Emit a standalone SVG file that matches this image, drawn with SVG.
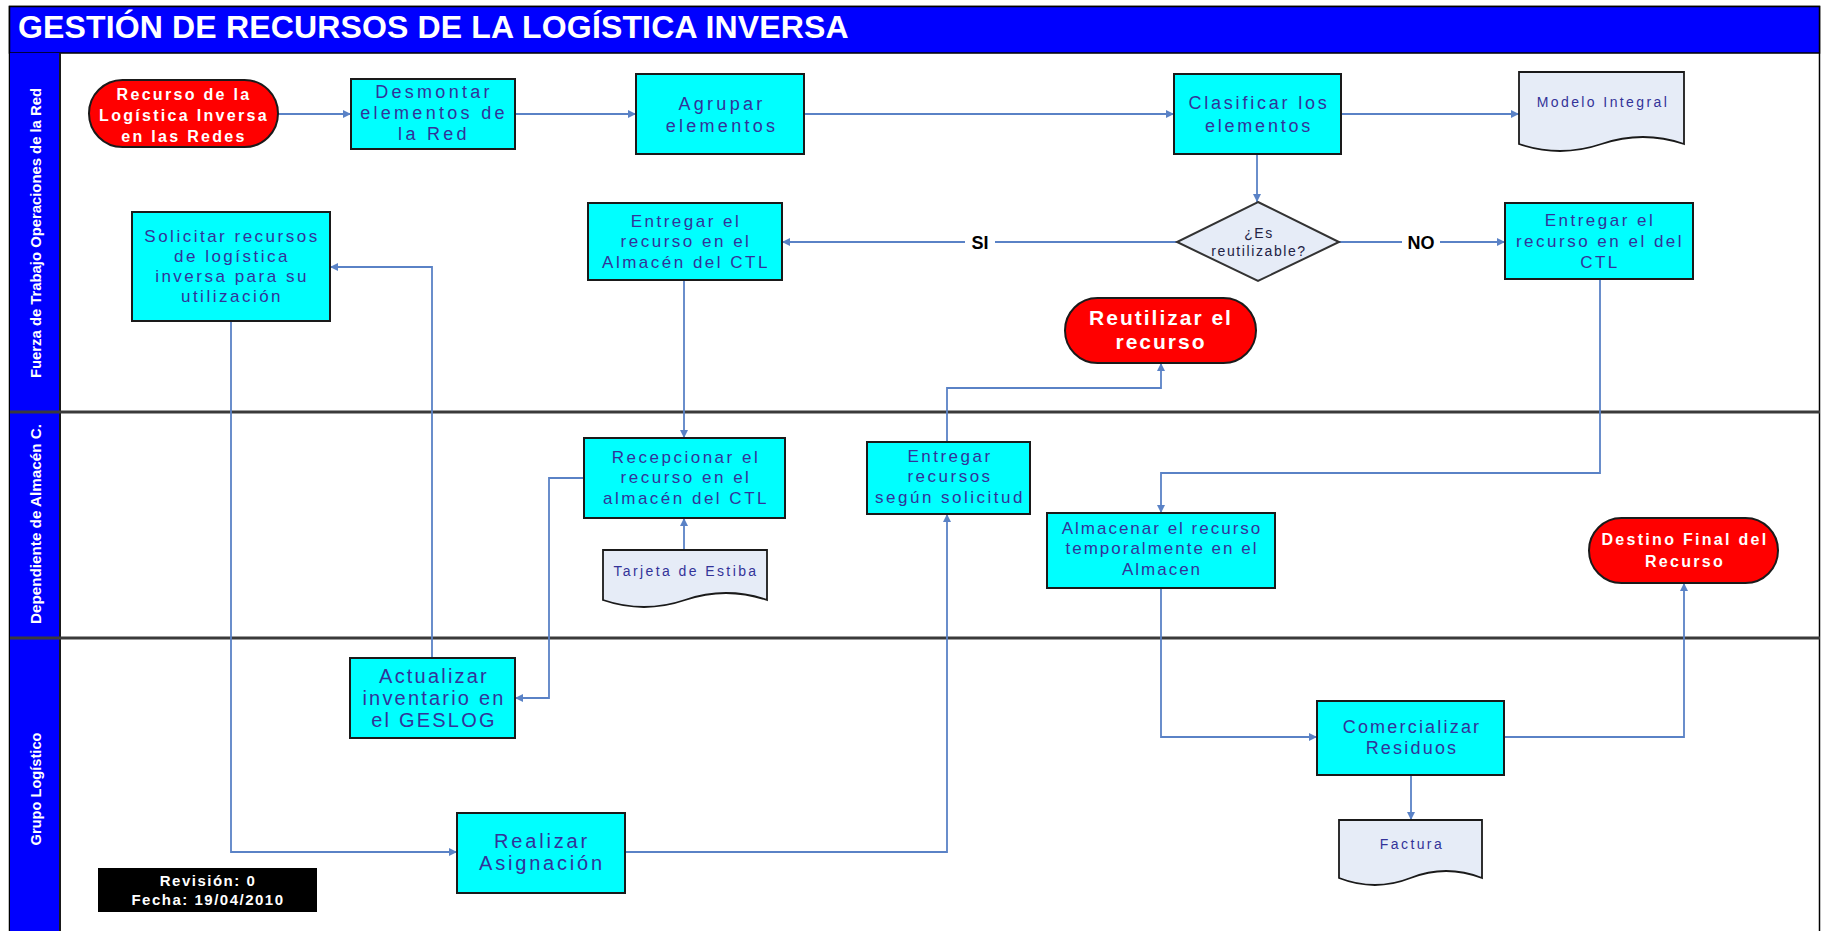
<svg xmlns="http://www.w3.org/2000/svg" width="1824" height="931" viewBox="0 0 1824 931">
<defs>
<marker id="ah" viewBox="0 0 10 10" refX="10" refY="5" markerWidth="9" markerHeight="8" markerUnits="userSpaceOnUse" orient="auto">
<path d="M0,0 L10,5 L0,10 z" fill="#5A82C6"/>
</marker>
<style>
text{font-family:"Liberation Sans",Arial,sans-serif}
.proc{fill:#00FFFF;stroke:#1a1a1a;stroke-width:2}
.term{fill:#FF0000;stroke:#1a1a1a;stroke-width:2}
.doc{fill:#E6ECF7;stroke:#1a1a1a;stroke-width:1.8}
.dia{fill:#E6ECF7;stroke:#333333;stroke-width:2}
.t{fill:#333399;font-size:17px;letter-spacing:2.5px;text-anchor:middle}
.tb{fill:#333399;font-size:20px;letter-spacing:2.2px;text-anchor:middle}
.td{fill:#333399;font-size:14px;letter-spacing:2.4px;text-anchor:middle}
.tw{fill:#FFFFFF;font-size:16px;font-weight:bold;letter-spacing:2.3px;text-anchor:middle}
.lane{fill:#FFFFFF;font-size:14px;font-weight:bold;text-anchor:middle}
.c{fill:none;stroke:#5A82C6;stroke-width:1.8}
.ca{fill:none;stroke:#5A82C6;stroke-width:1.8;marker-end:url(#ah)}
.lbl{fill:#000000;font-size:18px;font-weight:bold;text-anchor:middle}
</style>
</defs>

<g id="frame">
<rect x="9.5" y="6.5" width="1810" height="930" fill="#FFFFFF" stroke="#000000" stroke-width="1.5"/>
<rect x="9.5" y="6.5" width="1810" height="46.5" fill="#0000FF" stroke="#000000" stroke-width="1.5"/>
<text x="18" y="38" fill="#FFFFFF" font-size="32" font-weight="bold" letter-spacing="0.15">GESTIÓN DE RECURSOS DE LA LOGÍSTICA INVERSA</text>
<rect x="10" y="53" width="50" height="878" fill="#0000FF"/>
<line x1="60" y1="53" x2="60" y2="931" stroke="#1a1a1a" stroke-width="2"/>
<line x1="10" y1="412" x2="1820" y2="412" stroke="#3a3a3a" stroke-width="3"/>
<line x1="10" y1="638" x2="1820" y2="638" stroke="#3a3a3a" stroke-width="3"/>
</g>

<g id="lane-labels">
<text class="lane" transform="translate(41,233) rotate(-90)" textLength="290" lengthAdjust="spacingAndGlyphs">Fuerza de Trabajo Operaciones de la Red</text>
<text class="lane" transform="translate(41,524) rotate(-90)" textLength="200" lengthAdjust="spacingAndGlyphs">Dependiente de Almacén C.</text>
<text class="lane" transform="translate(41,789) rotate(-90)" textLength="113" lengthAdjust="spacingAndGlyphs">Grupo Logístico</text>
</g>

<g id="connectors">
<path class="ca" d="M278,114 H351"/>
<path class="ca" d="M515,114 H636"/>
<path class="ca" d="M804,114 H1174"/>
<path class="ca" d="M1341,114 H1519"/>
<path class="ca" d="M1257,154 V202"/>
<path class="ca" d="M1177,242 H782"/>
<path class="ca" d="M1339,242 H1505"/>
<path class="ca" d="M684,280 V438"/>
<path class="ca" d="M684,550 V518"/>
<path class="ca" d="M584,478 H549 V698 H515"/>
<path class="ca" d="M432,658 V267 H330"/>
<path class="ca" d="M231,321 V852 H457"/>
<path class="ca" d="M625,852 H947 V514"/>
<path class="ca" d="M947,442 V388 H1161 V363"/>
<path class="ca" d="M1600,279 V473 H1161 V513"/>
<path class="ca" d="M1161,588 V737 H1317"/>
<path class="ca" d="M1504,737 H1684 V583"/>
<path class="ca" d="M1411,775 V820"/>
<rect x="965" y="232" width="30" height="20" fill="#FFFFFF"/>
<text class="lbl" x="980" y="249">SI</text>
<rect x="1402" y="232" width="38" height="20" fill="#FFFFFF"/>
<text class="lbl" x="1421" y="249">NO</text>
</g>

<g id="start">
<rect class="term" x="89" y="80" width="189" height="67" rx="33.5"/>
<text class="tw" x="184" y="100">Recurso de la</text>
<text class="tw" x="184" y="121">Logística Inversa</text>
<text class="tw" x="184" y="142">en las Redes</text>
</g>

<g id="desmontar">
<rect class="proc" x="351" y="79" width="164" height="70"/>
<text class="t" x="434" y="98" style="font-size:18px;letter-spacing:3.3px">Desmontar</text>
<text class="t" x="434" y="119" style="font-size:18px;letter-spacing:3.3px">elementos de</text>
<text class="t" x="434" y="140" style="font-size:18px;letter-spacing:3.3px">la Red</text>
</g>

<g id="agrupar">
<rect class="proc" x="636" y="74" width="168" height="80"/>
<text class="t" x="722" y="110" style="font-size:18px;letter-spacing:3.3px">Agrupar</text>
<text class="t" x="722" y="132" style="font-size:18px;letter-spacing:3.3px">elementos</text>
</g>

<g id="clasificar">
<rect class="proc" x="1174" y="74" width="167" height="80"/>
<text class="t" x="1259" y="109" style="font-size:18px;letter-spacing:2.8px">Clasificar los</text>
<text class="t" x="1259" y="132" style="font-size:18px;letter-spacing:2.8px">elementos</text>
</g>

<g id="modelo-integral">
<path class="doc" d="M1519,72 H1684 V144 Q1643,130 1601.5,144 T1519,144 Z"/>
<text class="td" x="1603" y="107">Modelo Integral</text>
</g>

<g id="decision">
<path class="dia" d="M1258,202 L1339,242 L1258,281 L1177,242 Z"/>
<text x="1259" y="238" font-size="14" fill="#222244" text-anchor="middle" letter-spacing="1.6">¿Es</text>
<text x="1259" y="256" font-size="14" fill="#222244" text-anchor="middle" letter-spacing="1.6">reutilizable?</text>
</g>

<g id="entregar-ctl">
<rect class="proc" x="588" y="203" width="194" height="77"/>
<text class="t" x="686" y="227">Entregar el</text>
<text class="t" x="686" y="247">recurso en el</text>
<text class="t" x="686" y="268">Almacén del CTL</text>
</g>

<g id="entregar-del-ctl">
<rect class="proc" x="1505" y="203" width="188" height="76"/>
<text class="t" x="1600" y="226">Entregar el</text>
<text class="t" x="1600" y="247">recurso en el del</text>
<text class="t" x="1600" y="268">CTL</text>
</g>

<g id="solicitar">
<rect class="proc" x="132" y="212" width="198" height="109"/>
<text class="t" x="232" y="242">Solicitar recursos</text>
<text class="t" x="232" y="262">de logística</text>
<text class="t" x="232" y="282">inversa para su</text>
<text class="t" x="232" y="302">utilización</text>
</g>

<g id="reutilizar">
<rect class="term" x="1065" y="298" width="191" height="65" rx="32.5"/>
<text class="tw" x="1161" y="325" style="font-size:21px;letter-spacing:2px">Reutilizar el</text>
<text class="tw" x="1161" y="349" style="font-size:21px;letter-spacing:2px">recurso</text>
</g>

<g id="recepcionar">
<rect class="proc" x="584" y="438" width="201" height="80"/>
<text class="t" x="686" y="463">Recepcionar el</text>
<text class="t" x="686" y="483">recurso en el</text>
<text class="t" x="686" y="504">almacén del CTL</text>
</g>

<g id="tarjeta-estiba">
<path class="doc" d="M603,550 H767 V600 Q726,586 685,600 T603,600 Z"/>
<text class="td" x="686" y="576">Tarjeta de Estiba</text>
</g>

<g id="entregar-recursos">
<rect class="proc" x="867" y="442" width="163" height="72"/>
<text class="t" x="950" y="462">Entregar</text>
<text class="t" x="950" y="482">recursos</text>
<text class="t" x="950" y="503">según solicitud</text>
</g>

<g id="almacenar">
<rect class="proc" x="1047" y="513" width="228" height="75"/>
<text class="t" x="1162" y="534" style="letter-spacing:2px">Almacenar el recurso</text>
<text class="t" x="1162" y="554" style="letter-spacing:2px">temporalmente en el</text>
<text class="t" x="1162" y="575" style="letter-spacing:2px">Almacen</text>
</g>

<g id="destino-final">
<rect class="term" x="1589" y="518" width="189" height="65" rx="32.5"/>
<text class="tw" x="1685" y="545">Destino Final del</text>
<text class="tw" x="1685" y="567">Recurso</text>
</g>

<g id="actualizar">
<rect class="proc" x="350" y="658" width="165" height="80"/>
<text class="tb" x="434" y="683">Actualizar</text>
<text class="tb" x="434" y="705">inventario en</text>
<text class="tb" x="434" y="727">el GESLOG</text>
</g>

<g id="realizar">
<rect class="proc" x="457" y="813" width="168" height="80"/>
<text class="tb" x="542" y="848" style="letter-spacing:2.8px">Realizar</text>
<text class="tb" x="542" y="870" style="letter-spacing:2.8px">Asignación</text>
</g>

<g id="comercializar">
<rect class="proc" x="1317" y="701" width="187" height="74"/>
<text class="t" x="1412" y="733" style="font-size:18px;letter-spacing:2.2px">Comercializar</text>
<text class="t" x="1412" y="754" style="font-size:18px;letter-spacing:2.2px">Residuos</text>
</g>

<g id="factura">
<path class="doc" d="M1339,820 H1482 V878 Q1446,864 1410.5,878 T1339,878 Z"/>
<text class="td" x="1412" y="849">Factura</text>
</g>

<g id="revision">
<rect x="98" y="868" width="219" height="44" fill="#000000"/>
<text x="208" y="886" fill="#FFFFFF" font-size="15" font-weight="bold" letter-spacing="1.5" text-anchor="middle">Revisión: 0</text>
<text x="208" y="905" fill="#FFFFFF" font-size="15" font-weight="bold" letter-spacing="1.5" text-anchor="middle">Fecha: 19/04/2010</text>
</g>
</svg>
